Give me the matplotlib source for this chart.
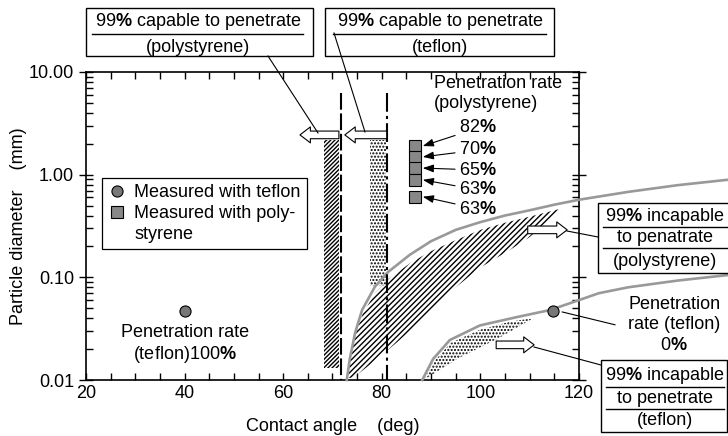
import numpy as np
import matplotlib
matplotlib.use("Agg")
import matplotlib.pyplot as plt
from matplotlib.patches import Rectangle
from matplotlib.lines import Line2D
from matplotlib.ticker import MultipleLocator, FormatStrFormatter, NullFormatter, LogLocator

plt.rcParams['font.family'] = ['Liberation Sans', 'DejaVu Sans']
plt.rcParams['mathtext.fontset'] = 'custom'
plt.rcParams['mathtext.rm'] = 'Liberation Sans'
plt.rcParams['mathtext.bf'] = 'Liberation Sans:bold'
plt.rcParams['font.size'] = 13
plt.rcParams['hatch.linewidth'] = 1.0

# --- data ---
# 99% incapable boundary (polystyrene), gray curve
ps_curve_x = [72.9, 73.5, 74.6, 76.0, 78.6, 81.3, 85.7, 90, 95, 100, 105, 110, 115, 120, 130, 140, 150]
ps_curve_y = [0.010, 0.016, 0.029, 0.048, 0.081, 0.113, 0.166, 0.225, 0.29, 0.345, 0.40, 0.45, 0.51, 0.57, 0.68, 0.79, 0.89]
# 99% incapable boundary (teflon), gray curve
tf_curve_x = [88.2, 90.4, 93.8, 99.9, 107.4, 114.1, 120, 124, 130, 140, 150]
tf_curve_y = [0.010, 0.016, 0.0245, 0.034, 0.041, 0.048, 0.060, 0.070, 0.080, 0.093, 0.105]

# hatched band below the polystyrene curve
ps_band_up_x = [73.0, 73.6, 74.7, 76.2, 78.8, 81.5, 86, 90, 95, 100, 105, 110, 116.6]
ps_band_up_y = [0.0105, 0.016, 0.028, 0.045, 0.072, 0.098, 0.14, 0.18, 0.23, 0.29, 0.34, 0.39, 0.47]
ps_band_lo_x = [74.2, 79.6, 87.7, 93.2, 99.9, 106, 110, 116.6]
ps_band_lo_y = [0.0105, 0.0168, 0.036, 0.068, 0.124, 0.185, 0.247, 0.47]

# dotted band below the teflon curve
tf_band_up_x = [88.8, 90.5, 94, 100, 106, 110.7]
tf_band_up_y = [0.0105, 0.015, 0.023, 0.031, 0.037, 0.040]
tf_band_lo_x = [89.2, 95.2, 104, 110.7]
tf_band_lo_y = [0.0105, 0.016, 0.026, 0.040]

# 99% capable limits (vertical lines) and strips
limit_ps = 71.7
limit_tf = 81.0
limit_top = 6.3
strip_ps_x = [68.2, 71.4]
strip_ps_y = [0.013, 2.18]
strip_tf_x = [77.6, 80.8]
strip_tf_y = [0.083, 2.18]

# measured points
teflon_x = [40, 114.7]
teflon_y = [0.047, 0.047]
ps_x = [86.7, 86.7, 86.7, 86.7, 86.7]
ps_y = [1.90, 1.49, 1.16, 0.89, 0.61]
ps_rates = ['82', '70', '65', '63', '63']
ps_rate_y = [2.85, 1.74, 1.11, 0.71, 0.463]

PCT = r'$\mathbf{\%}$'

W, H = 728, 436
fig = plt.figure(figsize=(W / 100, H / 100), dpi=100)
ax = fig.add_axes([86 / W, 1 - 380 / H, 493 / W, 308 / H])


def fx(x):
    return x / W


def fy(y):
    return 1 - y / H


# regions
ax.fill(np.r_[ps_band_up_x, ps_band_lo_x[::-1]], np.r_[ps_band_up_y, ps_band_lo_y[::-1]],
        facecolor='none', edgecolor='black', lw=0, hatch='//////')
ax.fill(np.r_[tf_band_up_x, tf_band_lo_x[::-1]], np.r_[tf_band_up_y, tf_band_lo_y[::-1]],
        facecolor='none', edgecolor='black', lw=0, hatch='.....')
ax.fill_between(strip_ps_x, strip_ps_y[0], strip_ps_y[1], facecolor='none',
                edgecolor='black', lw=0, hatch='////////')
ax.fill_between(strip_tf_x, strip_tf_y[0], strip_tf_y[1], facecolor='none',
                edgecolor='black', lw=0, hatch='.....')

# boundaries
ax.plot(ps_curve_x, ps_curve_y, color='#999999', lw=1.9, clip_on=False, zorder=3)
ax.plot(tf_curve_x, tf_curve_y, color='#999999', lw=1.9, clip_on=False, zorder=3)
ax.plot([limit_ps, limit_ps], [limit_top, 0.01], color='black', lw=1.5,
        linestyle=(0, (8, 1.8)), zorder=4)
ax.plot([limit_tf, limit_tf], [limit_top, 0.01], color='black', lw=1.5,
        linestyle=(0, (9, 2, 1.5, 2)), zorder=4)

# measured points
h_tf, = ax.plot(teflon_x, teflon_y, 'o', ms=8, mfc='#777777', mec='black', mew=0.8,
                linestyle='none', clip_on=False, zorder=5)
h_ps, = ax.plot(ps_x, ps_y, 's', ms=8.5, mfc='#888888', mec='black', mew=0.8,
                linestyle='none', zorder=5)


# block arrows
def block_arrow(tail, tip):
    ax.annotate('', xy=tip, xytext=tail, annotation_clip=False,
                arrowprops=dict(arrowstyle='simple,head_length=0.75,head_width=1.15,tail_width=0.55',
                                mutation_scale=10, fc='white', ec='black', lw=0.8,
                                shrinkA=0, shrinkB=0), zorder=6)


block_arrow((71.3, 2.44), (63.4, 2.44))
block_arrow((81.0, 2.44), (72.5, 2.44))
block_arrow((109.6, 0.29), (117.6, 0.29))
block_arrow((103.2, 0.022), (110.9, 0.022))

# penetration rate labels (polystyrene)
ax.text(90.6, 6.2, 'Penetration rate\n(polystyrene)', ha='left', va='center')
for r, yl, ys in zip(ps_rates, ps_rate_y, ps_y):
    ax.annotate(r + PCT, xy=(88.3, ys), xytext=(95.7, yl), ha='left', va='center',
                arrowprops=dict(arrowstyle='-|>,head_length=0.5,head_width=0.18',
                                color='black', lw=0.8, shrinkA=1, shrinkB=0))

ax.text(40, 0.022, 'Penetration rate\n(teflon)100' + PCT, ha='center', va='center')
ax.text(139.3, 0.0344, 'Penetration\nrate (teflon)\n0' + PCT, ha='center', va='center',
        linespacing=1.25)
ax.plot([116.6, 127.3], [0.046, 0.0345], color='black', lw=0.8, clip_on=False)

# axes
ax.set_xlim(20, 120)
ax.set_yscale('log')
ax.set_ylim(0.01, 10)
ax.set_xticks([20, 40, 60, 80, 100, 120])
ax.xaxis.set_minor_locator(MultipleLocator(5))
ax.yaxis.set_major_locator(LogLocator(base=10, numticks=10))
ax.yaxis.set_minor_locator(LogLocator(base=10, subs=np.arange(2, 10), numticks=10))
ax.yaxis.set_major_formatter(FormatStrFormatter('%.2f'))
ax.yaxis.set_minor_formatter(NullFormatter())
ax.xaxis.set_tick_params(which='both', direction='in', top=True, length=5, width=1)
ax.yaxis.set_tick_params(which='major', direction='inout', right=True, length=10, width=1)
ax.yaxis.set_tick_params(which='minor', direction='in', right=True, length=5, width=1)
for s in ax.spines.values():
    s.set_linewidth(1.2)

ax.set_xlabel('Contact angle    (deg)')
ax.xaxis.set_label_coords(0.5, (380 - 418) / 308)
ax.set_ylabel('Particle diameter    (mm)')
ax.yaxis.set_label_coords((27 - 86) / 493, 0.5)

blank = Line2D([], [], linestyle='none')
leg = ax.legend([h_tf, h_ps, blank], ['Measured with teflon', 'Measured with poly-', 'styrene'],
                loc='upper left', bbox_to_anchor=((102 - 86) / 493, (380 - 178) / 308),
                borderaxespad=0, frameon=True, fancybox=False, edgecolor='black',
                framealpha=1, handlelength=1.0, handletextpad=0.45, borderpad=0.35,
                labelspacing=0.2)
leg.get_frame().set_linewidth(0.9)


# boxes around the plot
def box(x0, y0, x1, y1, texts, text_ys, text_x, sep_ys, sep_x0, sep_x1):
    fig.add_artist(Rectangle((fx(x0), fy(y1)), fx(x1) - fx(x0), fy(y0) - fy(y1),
                             transform=fig.transFigure, facecolor='white',
                             edgecolor='black', lw=1, zorder=5))
    for t, y in zip(texts, text_ys):
        fig.text(fx(text_x), fy(y), t, ha='center', va='center', zorder=6)
    for y in sep_ys:
        fig.add_artist(Line2D([fx(sep_x0), fx(sep_x1)], [fy(y), fy(y)], color='black',
                              lw=1, zorder=6))


box(86, 8, 313, 56, ['99' + PCT + ' capable to penetrate', '(polystyrene)'], [21, 47], 198,
    [34], 92, 303)
box(325, 8, 554, 56, ['99' + PCT + ' capable to penetrate', '(teflon)'], [21, 47], 440,
    [34], 333, 546)
box(598, 203, 733, 273, ['99' + PCT + ' incapable', 'to penatrate', '(polystyrene)'],
    [216, 238, 261], 665, [227, 248], 603, 728)
box(601, 360, 727, 432, ['99' + PCT + ' incapable', 'to penetrate', '(teflon)'],
    [375, 398, 420], 665, [387, 409], 606, 724)

# leader lines
for (xa, ya), (xb, yb) in [((268, 56), (318, 133)), ((334, 33), (365, 132)),
                           ((567, 231), (598, 237)), ((534, 347), (601, 365))]:
    fig.add_artist(Line2D([fx(xa), fx(xb)], [fy(ya), fy(yb)], color='black', lw=0.8, zorder=7))

fig.savefig('out.png', dpi=100)
